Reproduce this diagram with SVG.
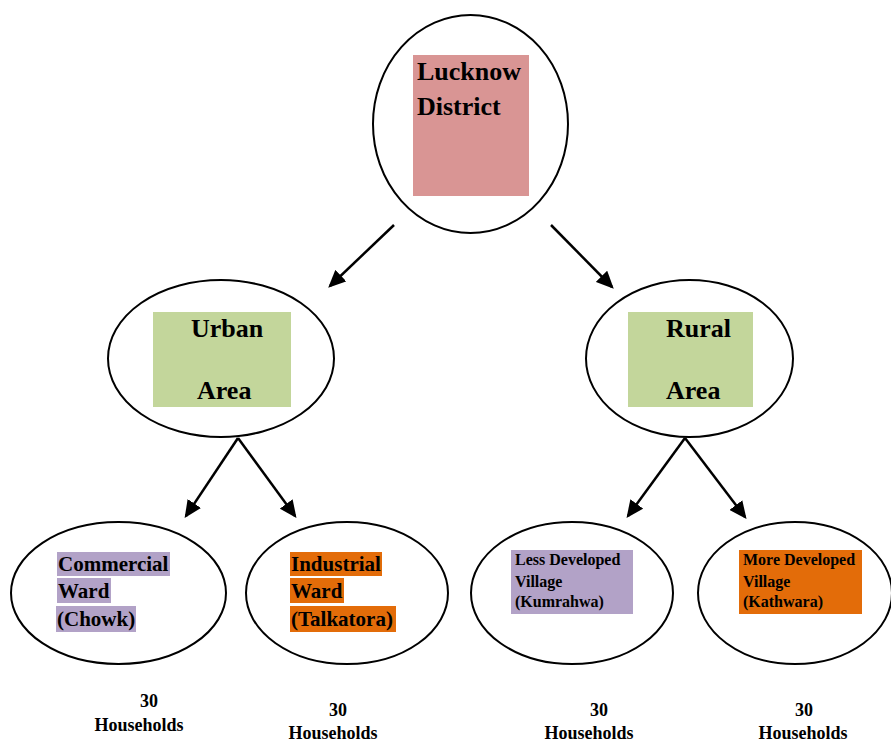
<svg xmlns="http://www.w3.org/2000/svg" width="891" height="742" viewBox="0 0 891 742">
<style>
.el{fill:#fff;stroke:#000;stroke-width:2}
.t{font-family:"Liberation Serif","Times New Roman",serif;font-weight:bold;fill:#000}
.big{font-size:26px}
.mid{font-size:21px}
.sm{font-size:16px}
.hh{font-size:18px;text-anchor:middle}
.c{stroke:#000;stroke-width:2.5;fill:none;marker-end:url(#ah)}
</style>
<defs>
<marker id="ah" markerWidth="7" markerHeight="6.4" refX="6" refY="3.2" orient="auto" markerUnits="strokeWidth">
<path d="M0,0 L7,3.2 L0,6.4 Z" fill="#000"/>
</marker>
</defs>
<rect width="891" height="742" fill="#fff"/>
<g id="connectors">
<line class="c" x1="394" y1="225" x2="330" y2="286"/>
<line class="c" x1="551" y1="225" x2="612" y2="287"/>
<line class="c" x1="238" y1="438" x2="186" y2="516"/>
<line class="c" x1="238" y1="438" x2="295" y2="516"/>
<line class="c" x1="685" y1="438" x2="628" y2="516"/>
<line class="c" x1="685" y1="438" x2="745" y2="517"/>
</g>
<g id="lucknow">
<ellipse class="el" cx="470.5" cy="124" rx="97.5" ry="109"/>
<rect x="413" y="55" width="116" height="141" fill="#d99594"/>
<text class="t big" x="417" y="80">Lucknow</text>
<text class="t big" x="417" y="115">District</text>
</g>
<g id="urban">
<ellipse class="el" cx="221" cy="358.5" rx="113" ry="78.5"/>
<rect x="153" y="312" width="138" height="95" fill="#c3d69b"/>
<text class="t big" x="191" y="337">Urban</text>
<text class="t big" x="197" y="399">Area</text>
</g>
<g id="rural">
<ellipse class="el" cx="689.5" cy="358.5" rx="103.5" ry="78.5"/>
<rect x="628" y="312" width="125" height="95" fill="#c3d69b"/>
<text class="t big" x="666" y="337">Rural</text>
<text class="t big" x="666" y="399">Area</text>
</g>
<g id="commercial">
<ellipse class="el" cx="118.5" cy="593" rx="107.5" ry="71"/>
<rect x="57" y="552" width="113" height="24" fill="#b2a2c7"/>
<rect x="57" y="578" width="54" height="25" fill="#b2a2c7"/>
<rect x="56" y="606" width="80" height="26" fill="#b2a2c7"/>
<text class="t mid" x="58" y="571">Commercial</text>
<text class="t mid" x="58" y="598">Ward</text>
<text class="t mid" x="57" y="626">(Chowk)</text>
</g>
<g id="industrial">
<ellipse class="el" cx="347" cy="593" rx="101" ry="71"/>
<rect x="290" y="552" width="92" height="24" fill="#e36c09"/>
<rect x="290" y="578" width="54" height="25" fill="#e36c09"/>
<rect x="290" y="606" width="106" height="26" fill="#e36c09"/>
<text class="t mid" x="291" y="571">Industrial</text>
<text class="t mid" x="291" y="598">Ward</text>
<text class="t mid" x="291" y="626">(Talkatora)</text>
</g>
<g id="lessdev">
<ellipse class="el" cx="572" cy="593" rx="101" ry="71"/>
<rect x="511" y="550" width="122" height="64" fill="#b2a2c7"/>
<text class="t sm" x="515" y="565">Less Developed</text>
<text class="t sm" x="515" y="587">Village</text>
<text class="t sm" x="515" y="607">(Kumrahwa)</text>
</g>
<g id="moredev">
<ellipse class="el" cx="795" cy="593" rx="97" ry="71"/>
<rect x="739" y="550" width="123" height="64" fill="#e36c09"/>
<text class="t sm" x="743" y="565">More Developed</text>
<text class="t sm" x="743" y="587">Village</text>
<text class="t sm" x="743" y="607">(Kathwara)</text>
</g>
<g id="hh1">
<text class="t hh" x="149" y="707">30</text>
<text class="t hh" x="139" y="731">Households</text>
</g>
<g id="hh2">
<text class="t hh" x="338" y="716">30</text>
<text class="t hh" x="333" y="739">Households</text>
</g>
<g id="hh3">
<text class="t hh" x="599" y="716">30</text>
<text class="t hh" x="589" y="739">Households</text>
</g>
<g id="hh4">
<text class="t hh" x="804" y="716">30</text>
<text class="t hh" x="803" y="739">Households</text>
</g>
</svg>
